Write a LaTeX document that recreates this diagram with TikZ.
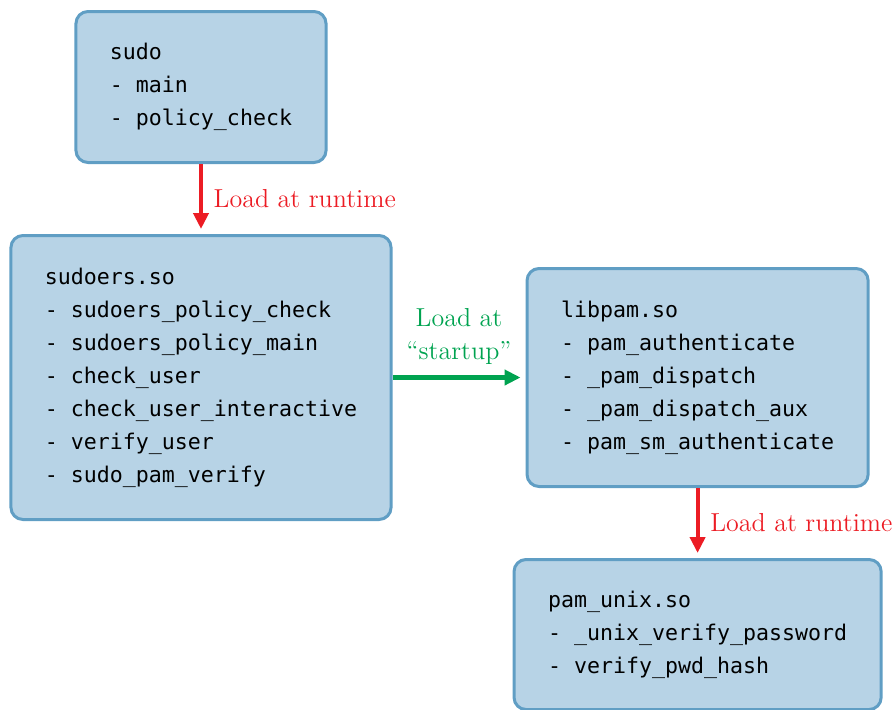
\documentclass[tikz,border=0pt]{standalone}
\usepackage{fontspec}
\setmonofont{DejaVu Sans Mono}
\usepackage{xcolor}
\definecolor{sofill}{RGB}{183,211,230}
\definecolor{soline}{RGB}{96,158,196}
\definecolor{ldred}{RGB}{236,28,36}
\definecolor{ldgreen}{RGB}{0,163,80}
\usetikzlibrary{arrows.meta,positioning}
\tikzset{
  sobox/.style={draw=soline,line width=1.5pt,fill=sofill,rounded corners=6pt,align=left,inner xsep=17pt,
    font=\ttfamily\fontsize{10.8}{16.5}\selectfont},
  rtflow/.style={-{Triangle[length=8pt,width=7.5pt]},draw=ldred,line width=2pt,shorten >=2.5pt},
  stflow/.style={-{Triangle[length=8pt,width=7.5pt]},draw=ldgreen,line width=2.2pt,shorten >=2.5pt},
  lbl/.style={font=\fontsize{13}{16.5}\selectfont,align=center},
}

\begin{document}
\begin{tikzpicture}
\useasboundingbox (0,0) rectangle (448pt,-354.5pt);
\node[sobox,minimum height=75.5pt] (sudo) at (100.5pt,-43.5pt) {sudo\\- main\\- policy\_check};
\node[sobox,minimum height=142pt,below=35pt of sudo] (sudoers) {sudoers.so\\- sudoers\_policy\_check\\- sudoers\_policy\_main\\- check\_user\\- check\_user\_interactive\\- verify\_user\\- sudo\_pam\_verify};
\node[sobox,minimum height=109pt,right=66.5pt of sudoers] (libpam) {libpam.so\\- pam\_authenticate\\- \_pam\_dispatch\\- \_pam\_dispatch\_aux\\- pam\_sm\_authenticate};
\node[sobox,minimum height=75pt,below=35pt of libpam] (pamunix) {pam\_unix.so\\- \_unix\_verify\_password\\- verify\_pwd\_hash};
\draw[rtflow] (sudo) -- node[lbl,right,xshift=2pt,text=ldred]{Load at runtime} (sudoers);
\draw[stflow] (sudoers) -- node[lbl,above,yshift=2pt,text=ldgreen]{Load at\\“startup”} (libpam);
\draw[rtflow] (libpam) -- node[lbl,right,xshift=2pt,text=ldred]{Load at runtime} (pamunix);
\end{tikzpicture}
\end{document}
